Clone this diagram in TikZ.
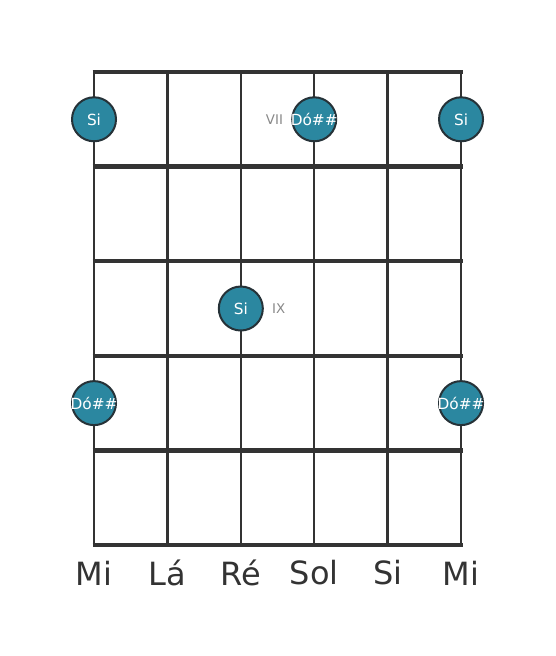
\documentclass[tikz,border=0pt]{standalone}
\usepackage{fontspec}
\setmainfont{DejaVu Sans}
\usepackage{xcolor}
\usepackage{tikz}
\definecolor{boardline}{HTML}{333333}
\definecolor{notefill}{HTML}{2B87A0}
\definecolor{noteedge}{HTML}{263238}
\definecolor{fretlabel}{HTML}{888888}
\newcommand{\notename}[1]{\makebox[0pt]{#1}}
\tikzset{
  note/.style={circle, fill=notefill, draw=noteedge, line width=1.5pt,
    minimum size=33pt, inner sep=0pt, text=white, font=\fontsize{11.5}{12}\selectfont},
  fretno/.style={text=fretlabel, font=\fontsize{10}{10}\selectfont, inner sep=1pt},
  stringname/.style={text=boardline, font=\fontsize{24}{24}\selectfont}
}
\begin{document}
\begin{tikzpicture}[x=55.05pt, y=-70.95pt]
			\useasboundingbox (-1.2807,-0.761) rectangle (6.2807,6.173);
			% strings
			\foreach \s in {0,...,5}
				\draw[boardline, line width=1.8pt] (\s,0) -- (\s,5);
			% frets
			\foreach \f in {0,...,5}
				\draw[boardline, line width=3.2pt] (-0.02,\f) -- (5.02,\f);
			% notes
			\node[note] (si1) at (0,0.5) {\notename{Si}};
			\node[note] (do1) at (3,0.5) {\notename{Dó\#\#}};
			\node[note] (si6) at (5,0.5) {\notename{Si}};
			\node[note] (si4) at (2,2.5) {\notename{Si}};
			\node[note] (do6) at (0,3.5) {\notename{Dó\#\#}};
			\node[note] (do7) at (5,3.5) {\notename{Dó\#\#}};
			% fret numbers
			\node[fretno, anchor=east] (vii) at ([xshift=-5pt]do1.west) {VII};
			\node[fretno, anchor=west] (ix) at ([xshift=5pt]si4.east) {IX};
			% string names
			\node[stringname] (s1) at (0,5.296) {Mi};
			\node[stringname] (s2) at (1,5.296) {Lá};
			\node[stringname] (s3) at (2,5.296) {Ré};
			\node[stringname] (s4) at (3,5.296) {Sol};
			\node[stringname] (s5) at (4,5.296) {Si};
			\node[stringname] (s6) at (5,5.296) {Mi};
		\end{tikzpicture}
\end{document}
